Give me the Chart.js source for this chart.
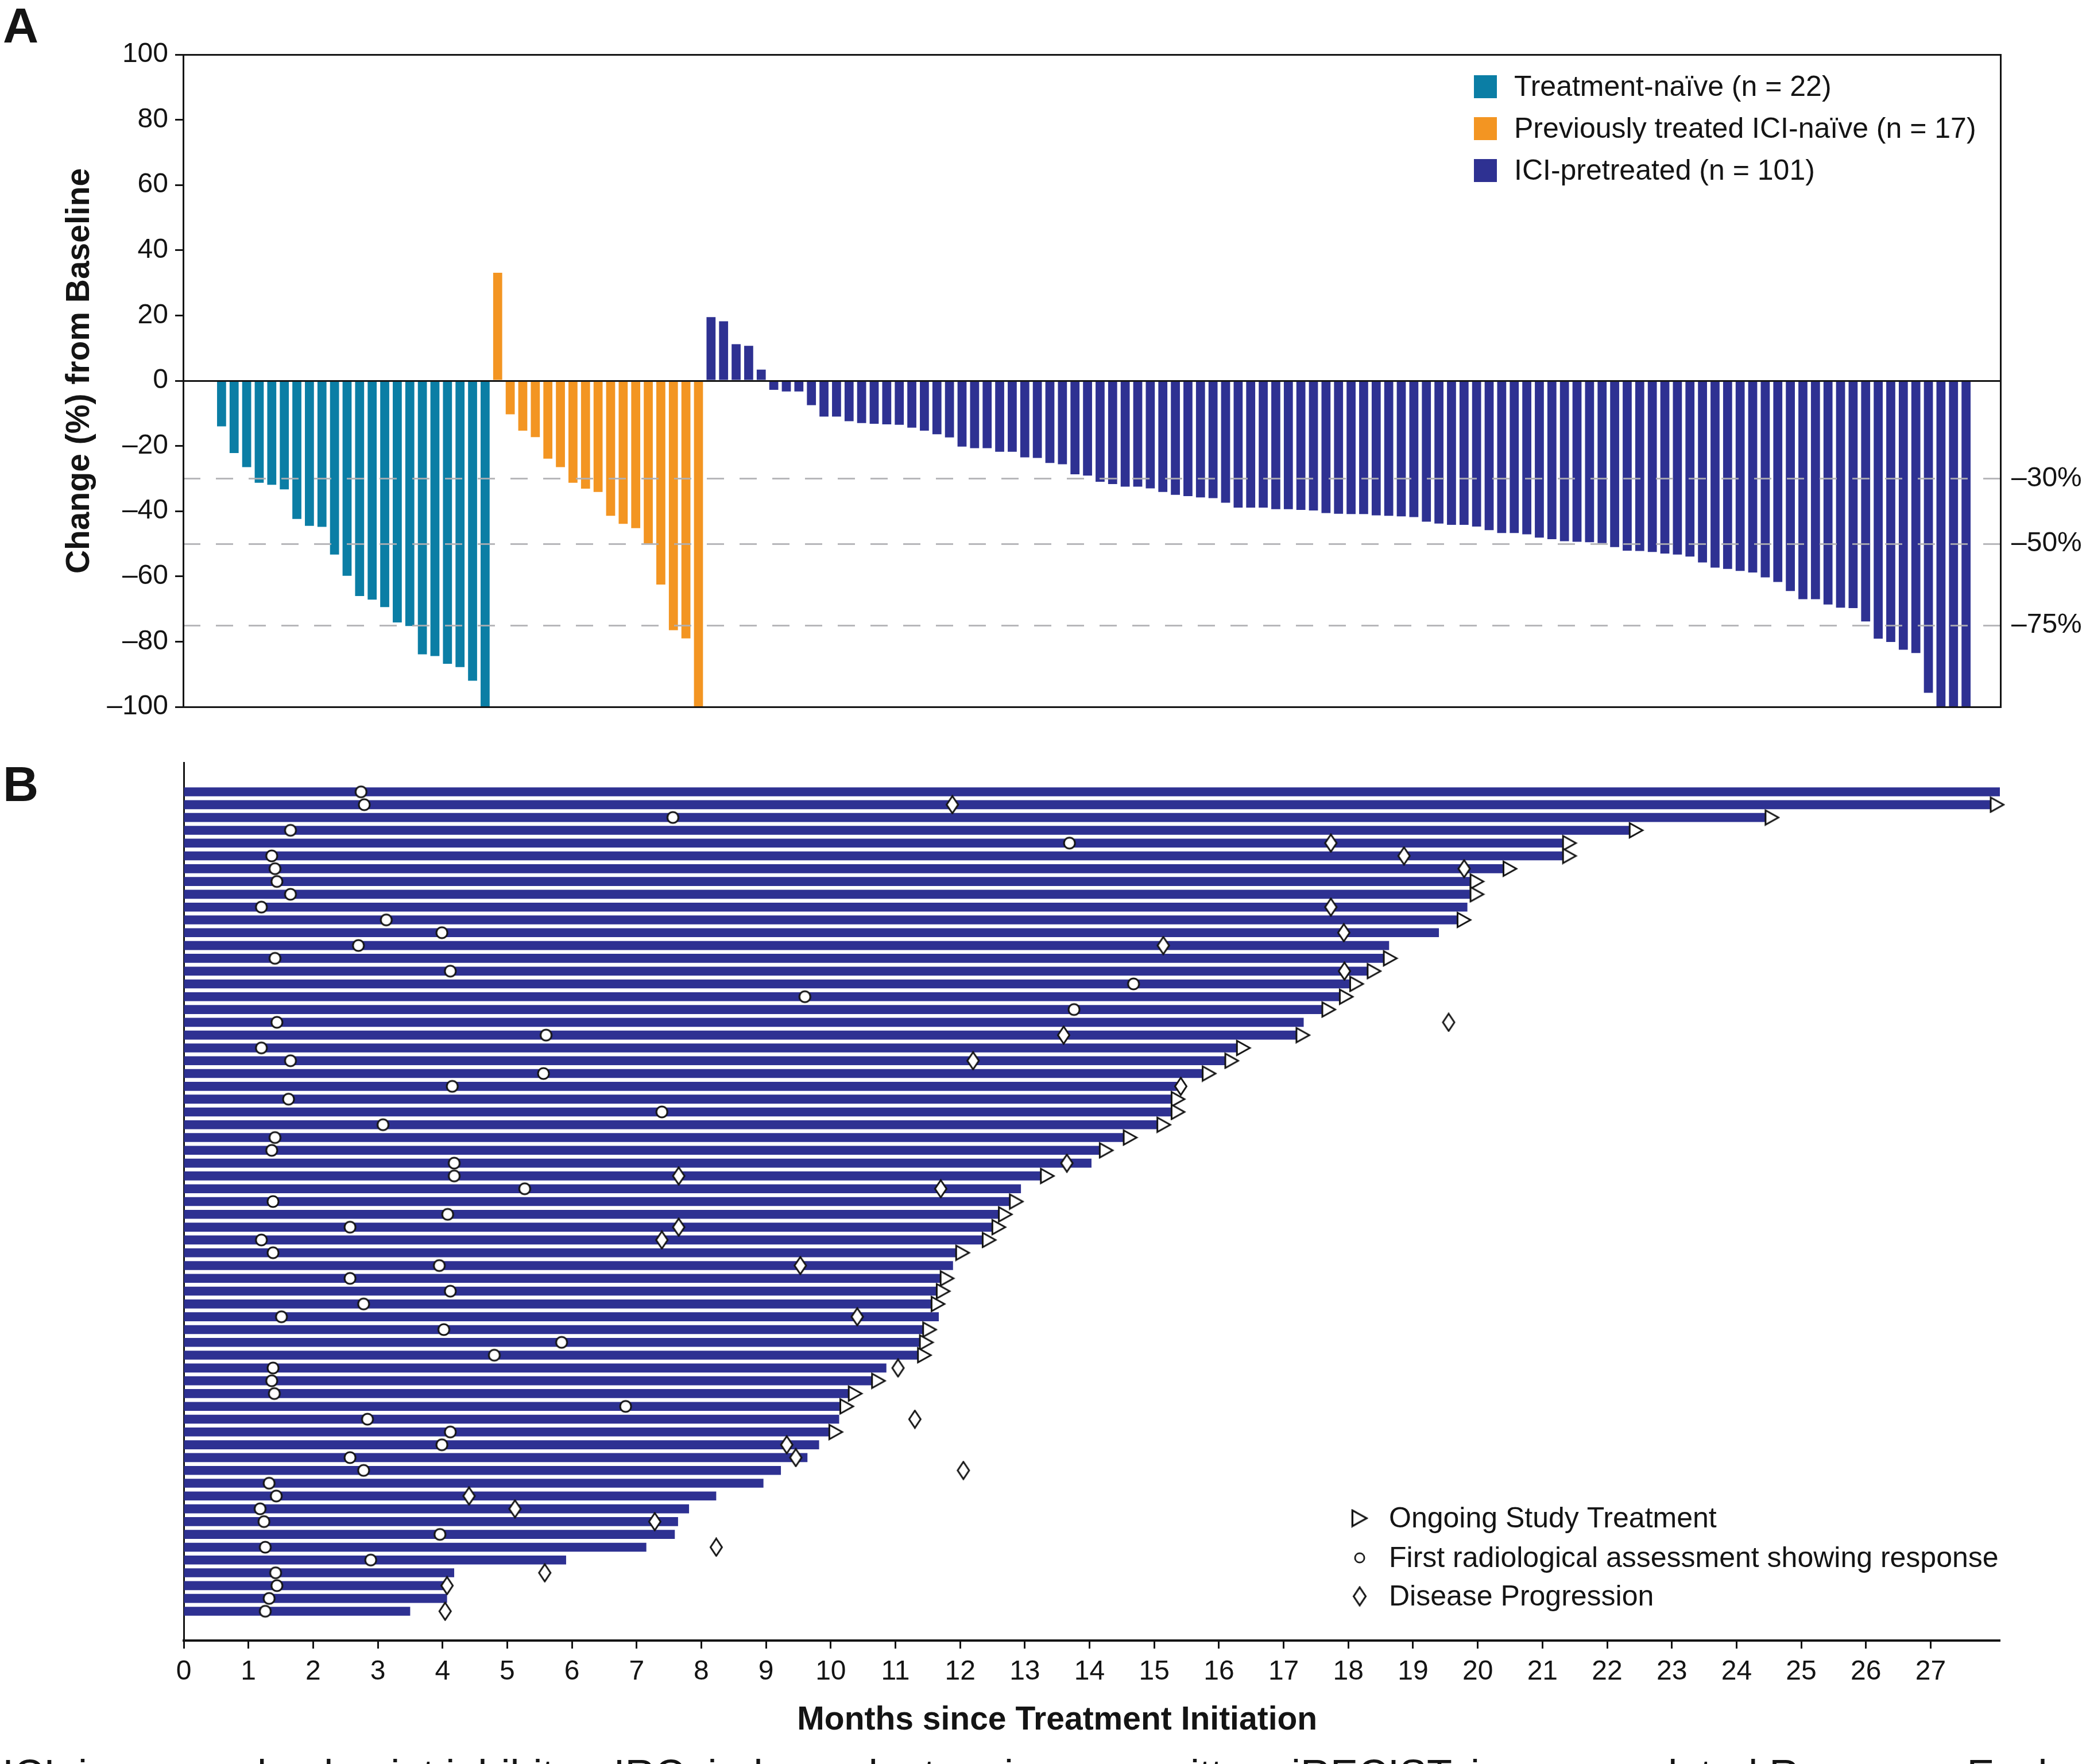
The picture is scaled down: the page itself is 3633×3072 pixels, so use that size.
<!DOCTYPE html>
<html>
<head>
<meta charset="utf-8">
<script src="https://cdn.jsdelivr.net/npm/chart.js@4.4.1/dist/chart.umd.min.js"></script>
<style>
  html, body { margin: 0; padding: 0; background: #fff; }
  #wrap { position: relative; width: 3633px; height: 3072px; overflow: hidden; background: #fff; }
  #wrap canvas { position: absolute; left: 0; }
  #waterfall { top: 0; }
  #swimmer { top: 1280px; }
</style>
</head>
<body>
<div id="wrap">
  <canvas id="waterfall" width="3633" height="1280"></canvas>
  <canvas id="swimmer" width="3633" height="1792"></canvas>
</div>
<script>
// ---- panel A: best % change from baseline, one bar per patient ----
const groupLabels = ['Treatment-naïve (n = 22)', 'Previously treated ICI-naïve (n = 17)', 'ICI-pretreated (n = 101)'];
const naiveChange = [-14, -22.2, -26.5, -31.3, -31.9, -33.3, -42.4, -44.5, -44.8, -53.3, -59.8, -66, -67.1, -69.4,
  -74.1, -75.2, -83.9, -84.4, -86.8, -87.8, -92, -100];
const prevTreatedChange = [33.1, -10.3, -15.3, -17.3, -23.9, -26.5, -31.3, -33.1, -34.1, -41.4, -43.9, -45.2, -49.9,
  -62.5, -76.5, -79, -100];
const iciPretreatedChange = [19.5, 18.2, 11.2, 10.7, 3.4,
  -2.8, -3.3, -3.3, -7.5, -11, -11, -12.4, -13, -13.2, -13.4,
  -13.5, -14.4, -15.3, -16.4, -17.4, -20.2, -20.7, -20.7, -21.8, -21.8,
  -23.5, -23.7, -25.2, -25.6, -28.7, -29.1, -31, -31.7, -32.5, -32.5,
  -33, -34.1, -35, -35.4, -35.8, -36, -37.4, -38.9, -38.9, -38.9,
  -39.4, -39.4, -39.6, -39.8, -40.6, -40.8, -40.9, -40.9, -41.3, -41.4,
  -41.6, -41.8, -43.2, -43.8, -44.2, -44.2, -44.7, -45.8, -46.7, -46.7,
  -47.1, -48.1, -48.6, -49.2, -49.4, -49.5, -49.8, -51, -52.1,
  -52.2, -52.5, -53, -53.3, -53.9, -55.7, -57.3, -57.7, -58.3, -58.8,
  -60.3, -61.7, -64.5, -67, -67, -68.6, -69.6, -69.7, -73.8, -79.1,
  -80.1, -82.5, -83.5, -95.7, -100, -100, -100];
const changeTicks = [100, 80, 60, 40, 20, 0, -20, -40, -60, -80, -100];
const thresholds = [-30, -50, -75];

// ---- panel B: swimmer plot, rows top to bottom ----
const durationMonths = [28.07, 27.97, 24.49, 22.36, 21.34, 21.34, 20.44, 19.9, 19.9, 19.84,
  19.72, 19.4, 18.63, 18.57, 18.3, 18.02, 17.87, 17.62, 17.31, 17.2,
  16.3, 16.1, 15.78, 15.35, 15.3, 15.29, 15.09, 14.56, 14.17, 14.03,
  13.27, 12.94, 12.79, 12.63, 12.54, 12.38, 11.95, 11.89, 11.7, 11.65,
  11.58, 11.67, 11.44, 11.42, 11.38, 10.86, 10.65, 10.3, 10.19, 10.13,
  10.0, 9.82, 9.64, 9.23, 8.96, 8.23, 7.81, 7.64, 7.59, 7.15,
  5.91, 4.18, 4.04, 4.07, 3.5];
const responseMonths = [2.74, 2.79, 7.56, 1.65, 13.69, 1.36, 1.41, 1.44, 1.65, 1.2,
  3.13, 3.99, 2.7, 1.41, 4.12, 14.68, 9.6, 13.76, 1.44, 5.6,
  1.2, 1.65, 5.56, 4.15, 1.62, 7.39, 3.08, 1.41, 1.36, 4.18,
  4.18, 5.27, 1.38, 4.08, 2.57, 1.2, 1.38, 3.95, 2.57, 4.12,
  2.78, 1.51, 4.02, 5.84, 4.8, 1.38, 1.36, 1.4, 6.83, 2.84,
  4.12, 3.99, 2.57, 2.78, 1.32, 1.43, 1.18, 1.24, 3.96, 1.26,
  2.89, 1.42, 1.44, 1.32, 1.26];
const ongoingRows = [2, 3, 4, 5, 6, 7, 8, 9, 11, 14, 15, 16, 17, 18, 20, 21, 22, 23, 25, 26,
  27, 28, 29, 31, 33, 34, 35, 36, 37, 39, 40, 41, 43, 44, 45, 47, 48, 49, 51];
const ongoingMonths = [28.03, 24.55, 22.45, 21.42, 21.42, 20.5, 19.99, 19.99, 19.79, 18.65, 18.4, 18.13, 17.97, 17.7,
  17.3, 16.38, 16.2, 15.85, 15.37, 15.37, 15.15, 14.63, 14.26, 13.35, 12.87, 12.7, 12.6, 12.45, 12.04,
  11.8, 11.74, 11.66, 11.53, 11.48, 11.45, 10.74, 10.38, 10.25, 10.08];
const progressionRows = [2, 5, 6, 7, 10, 12, 13, 15, 19, 20, 22, 24, 30, 31, 32, 35, 36, 38, 42, 46,
  50, 52, 53, 54, 56, 57, 58, 60, 62, 63, 65];
const progressionMonths = [11.88, 17.73, 18.86, 19.79, 17.73, 17.93, 15.14, 17.94, 19.55, 13.6, 12.2, 15.41, 13.65,
  7.65, 11.7, 7.65, 7.39, 9.53, 10.41, 11.04, 11.3, 9.32, 9.46, 12.05, 4.41, 5.12, 7.28, 8.23, 5.58, 4.07, 4.04];
const monthTicks = [0, 1, 2, 3, 4, 5, 6, 7, 8, 9, 10, 11, 12, 13, 14, 15, 16, 17, 18, 19, 20, 21, 22, 23, 24, 25, 26, 27];
const markerLabels = ['Ongoing Study Treatment', 'First radiological assessment showing response', 'Disease Progression'];

const TEAL = '#0b7ea5', ORANGE = '#f39522', NAVY = '#2e3192', INK = '#141414';
const FONT = "'Liberation Sans', Arial, sans-serif";
Chart.defaults.font.family = FONT;
Chart.defaults.font.size = 48;
Chart.defaults.color = INK;

const dash = v => (v < 0 ? '\u2013' + (-v) : String(v));

// small white marker images with black outline
function markerCanvas(w, h, path) {
  const c = document.createElement('canvas');
  c.width = w; c.height = h;
  const g = c.getContext('2d');
  g.fillStyle = '#fff'; g.strokeStyle = INK; g.lineWidth = 3; g.lineJoin = 'miter';
  g.beginPath(); path(g, w, h); g.closePath(); g.fill(); g.stroke();
  return c;
}
const triangleMark = markerCanvas(28, 30, (g, w, h) => { g.moveTo(2.5, 2.5); g.lineTo(w - 3, h / 2); g.lineTo(2.5, h - 2.5); });
const circleMark = markerCanvas(25, 25, (g, w, h) => g.arc(w / 2, h / 2, 9.5, 0, Math.PI * 2));
const diamondMark = markerCanvas(25, 34, (g, w, h) => { g.moveTo(w / 2, 2); g.lineTo(w - 2.5, h / 2); g.lineTo(w / 2, h - 2); g.lineTo(2.5, h / 2); });

const toPoints = (vals, start) => vals.map((v, i) => ({ x: start + i, y: v }));
const nA = naiveChange.length, nB = prevTreatedChange.length;

const legendA = {
  id: 'legendA',
  afterDraw(chart) {
    const ctx = chart.ctx;
    ctx.save();
    ctx.font = '50px ' + FONT;
    ctx.textBaseline = 'middle';
    chart.data.datasets.forEach((ds, i) => {
      const y = 151 + i * 73;
      ctx.fillStyle = ds.backgroundColor;
      ctx.fillRect(2567, y - 20, 40, 40);
      ctx.fillStyle = INK;
      ctx.fillText(ds.label, 2637, y + 2);
    });
    // y axis title, a little above the axis middle as in the original
    ctx.save();
    ctx.translate(139, chart.scales.y.getPixelForValue(3));
    ctx.rotate(-Math.PI / 2);
    ctx.textAlign = 'center';
    ctx.font = 'bold 57px ' + FONT;
    ctx.fillText('Change (%) from Baseline', 0, 0);
    ctx.restore();
    ctx.font = 'bold 86px ' + FONT;
    ctx.textBaseline = 'alphabetic';
    ctx.fillText('A', 5, 74);
    ctx.restore();
  }
};

// borders sit above the grid layer so their position is already computed
const frame = { color: INK, width: 3, z: 2 };

new Chart(document.getElementById('waterfall'), {
  type: 'bar',
  data: {
    datasets: [
      { label: groupLabels[0], data: toPoints(naiveChange, 1), backgroundColor: TEAL },
      { label: groupLabels[1], data: toPoints(prevTreatedChange, 1 + nA), backgroundColor: ORANGE },
      { label: groupLabels[2], data: toPoints(iciPretreatedChange, 1 + nA + nB), backgroundColor: NAVY }
    ]
  },
  options: {
    responsive: false,
    animation: false,
    devicePixelRatio: 1,
    datasets: { bar: { grouped: false, barPercentage: 0.72, categoryPercentage: 1 } },
    plugins: { legend: { display: false }, tooltip: { enabled: false } },
    scales: {
      x: {
        type: 'linear', position: 'bottom', min: -2.06, max: 142.74, offset: false,
        ticks: { display: false }, grid: { display: false, offset: false },
        border: frame,
        afterFit: s => { s.height = 49; }
      },
      xTop: {
        type: 'linear', position: 'top', offset: false,
        ticks: { display: false }, grid: { display: false },
        border: frame,
        afterFit: s => { s.height = 95; }
      },
      y: {
        position: 'left', min: -100, max: 100,
        afterBuildTicks: s => { s.ticks = changeTicks.map(v => ({ value: v })); },
        ticks: { padding: 12, callback: v => dash(v) },
        grid: {
          z: 1, lineWidth: 3,
          color: c => (c.tick && c.tick.value === 0 ? INK : 'rgba(0,0,0,0)'),
          tickColor: INK, tickLength: 14, tickWidth: 3
        },
        border: frame,
        afterFit: s => { s.width = 319; }
      },
      y2: {
        position: 'right', min: -100, max: 100,
        afterBuildTicks: s => { s.ticks = thresholds.map(v => ({ value: v })); },
        ticks: { padding: 19, callback: v => dash(v) + '%' },
        grid: { z: 1, lineWidth: 3, color: 'rgba(175,175,178,0.9)', drawTicks: false },
        border: { color: INK, width: 3, z: 2, dash: [30, 27] },
        afterFit: s => { s.width = 149; }
      }
    }
  },
  plugins: [legendA]
});

const legendB = {
  id: 'legendB',
  afterDraw(chart) {
    const ctx = chart.ctx;
    const marks = [triangleMark, circleMark, diamondMark];
    const scales = [1.1, 0.85, 1.05];
    const rowsY = [1364, 1433, 1500];
    ctx.save();
    ctx.font = '50px ' + FONT;
    ctx.textBaseline = 'middle';
    ctx.fillStyle = INK;
    marks.forEach((m, i) => {
      const s = scales[i];
      ctx.drawImage(m, 2368 - m.width * s / 2, rowsY[i] - m.height * s / 2, m.width * s, m.height * s);
      ctx.fillText(markerLabels[i], 2419, rowsY[i] + 2);
    });
    // x axis title, centred on the labelled months
    ctx.font = 'bold 57px ' + FONT;
    ctx.textAlign = 'center';
    ctx.fillText('Months since Treatment Initiation', chart.scales.x.getPixelForValue(13.5), 1716);
    ctx.textAlign = 'left';
    ctx.font = 'bold 86px ' + FONT;
    ctx.textBaseline = 'alphabetic';
    ctx.fillText('B', 5, 115);
    // caption line cut off by the bottom edge
    ctx.font = '72px ' + FONT;
    ctx.fillText('ICI, immune checkpoint inhibitor; IRC, independent review committee; iRECIST, immune-related Response Evaluation Criteria in Solid Tumors', 4, 1835);
    ctx.restore();
  }
};

const rowPoints = (rows, months) => rows.map((r, i) => ({ x: months[i], y: r }));

new Chart(document.getElementById('swimmer'), {
  type: 'bar',
  data: {
    datasets: [
      { type: 'scatter', label: markerLabels[0], data: rowPoints(ongoingRows, ongoingMonths), pointStyle: triangleMark, pointRadius: 12, clip: false, order: 0 },
      { type: 'scatter', label: markerLabels[2], data: rowPoints(progressionRows, progressionMonths), pointStyle: diamondMark, pointRadius: 12, clip: false, order: 1 },
      { type: 'scatter', label: markerLabels[1], data: responseMonths.map((m, i) => ({ x: m, y: i + 1 })), pointStyle: circleMark, pointRadius: 12, clip: false, order: 2 },
      {
        type: 'bar', label: 'Duration', indexAxis: 'y', order: 10,
        data: durationMonths.map((d, i) => ({ x: d, y: i + 1 })),
        backgroundColor: NAVY, grouped: false, barPercentage: 0.7, categoryPercentage: 1
      }
    ]
  },
  options: {
    responsive: false,
    animation: false,
    devicePixelRatio: 1,
    layout: { padding: { top: 48, right: 150, left: 0, bottom: 0 } },
    plugins: { legend: { display: false }, tooltip: { enabled: false } },
    scales: {
      x: {
        type: 'linear', position: 'bottom', min: 0, max: 28.07, offset: false,
        afterBuildTicks: s => { s.ticks = monthTicks.map(v => ({ value: v })); },
        ticks: { padding: 12, autoSkip: false, maxRotation: 0 },
        grid: { drawOnChartArea: false, drawTicks: true, tickLength: 14, tickWidth: 3, tickColor: INK, offset: false },
        border: { color: INK, width: 4 },
        afterFit: s => { s.height = 215; }
      },
      y: {
        type: 'linear', position: 'left', min: -1.29, max: 67.29, reverse: true, offset: false,
        ticks: { display: false }, grid: { display: false, offset: false },
        border: { color: INK, width: 3 },
        afterFit: s => { s.width = 320; }
      }
    }
  },
  plugins: [legendB]
});
</script>
</body>
</html>
